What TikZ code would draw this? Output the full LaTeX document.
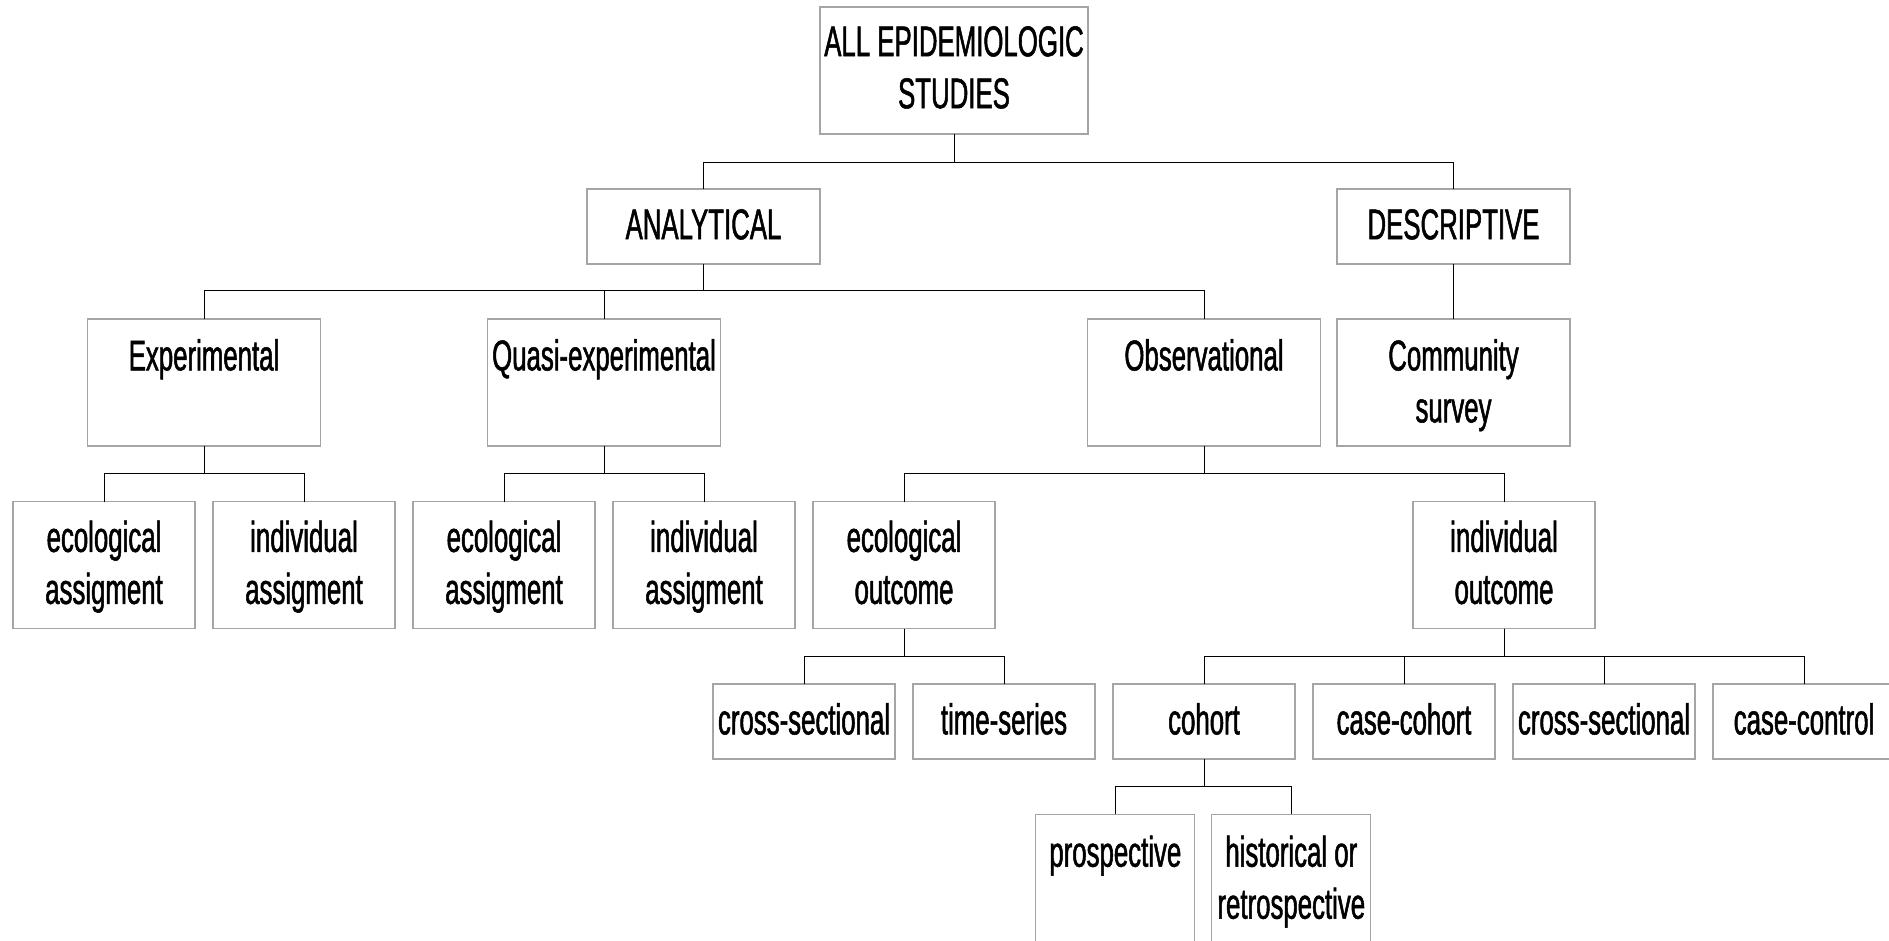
\documentclass[tikz,border=0pt]{standalone}
\usepackage{fontspec}
\newfontfamily\condfont{Liberation Sans}[FakeStretch=0.6,FakeBold=1.2]
\definecolor{boxgray}{RGB}{165,165,165}
\begin{document}
\begin{tikzpicture}[x=1pt,y=-1pt,
  box/.style={draw=boxgray, line width=1.3pt, inner sep=0pt, outer sep=0pt},
  txt/.style={anchor=north, inner sep=0pt, align=center,
    font=\condfont\fontsize{43}{52}\selectfont},
  conn/.style={draw=black, line width=1pt}]
\fill[white] (0,0) rectangle (1889,940);
\useasboundingbox (0,0) rectangle (1889,940);
\clip (0,0) rectangle (1889,940);
% level 0
\node[box, minimum width=268pt, minimum height=127pt] (top) at (954,70.5) {};
% level 1
\node[box, minimum width=233pt, minimum height=75pt] (ana) at (703.5,226.5) {};
\node[box, minimum width=233pt, minimum height=75pt] (desc) at (1453.5,226.5) {};
% level 2
\node[box, minimum width=233pt, minimum height=127pt] (exp) at (204,382.5) {};
\node[box, minimum width=233pt, minimum height=127pt] (quasi) at (604,382.5) {};
\node[box, minimum width=233pt, minimum height=127pt] (obs) at (1204,382.5) {};
\node[box, minimum width=233pt, minimum height=127pt] (comm) at (1453.5,382.5) {};
% level 3
\node[box, minimum width=182pt, minimum height=127pt] (ea1) at (104,565) {};
\node[box, minimum width=182pt, minimum height=127pt] (ia1) at (304,565) {};
\node[box, minimum width=182pt, minimum height=127pt] (ea2) at (504,565) {};
\node[box, minimum width=182pt, minimum height=127pt] (ia2) at (704,565) {};
\node[box, minimum width=182pt, minimum height=127pt] (eo) at (904,565) {};
\node[box, minimum width=182pt, minimum height=127pt] (io) at (1504,565) {};
% level 4
\node[box, minimum width=182pt, minimum height=75pt] (cs1) at (804,721.5) {};
\node[box, minimum width=182pt, minimum height=75pt] (ts) at (1004,721.5) {};
\node[box, minimum width=182pt, minimum height=75pt] (coh) at (1204,721.5) {};
\node[box, minimum width=182pt, minimum height=75pt] (cc) at (1404,721.5) {};
\node[box, minimum width=182pt, minimum height=75pt] (cs2) at (1604,721.5) {};
\node[box, minimum width=182pt, minimum height=75pt] (ctl) at (1804,721.5) {};
% level 5
\node[box, minimum width=159pt, minimum height=200pt] (pro) at (1115.3,914.3) {};
\node[box, minimum width=159pt, minimum height=200pt] (his) at (1291.3,914.3) {};

% texts
\node[txt] (ttop) at ([yshift=-19pt]top.north) {ALL EPIDEMIOLOGIC\\STUDIES};
\node[txt] (tana) at ([yshift=-20pt]ana.north) {ANALYTICAL};
\node[txt] (tdesc) at ([yshift=-20pt]desc.north) {DESCRIPTIVE};
\node[txt] (texp) at ([yshift=-20pt]exp.north) {Experimental};
\node[txt] (tquasi) at ([yshift=-20pt]quasi.north) {Quasi-experimental};
\node[txt] (tobs) at ([yshift=-20pt]obs.north) {Observational};
\node[txt] (tcomm) at ([yshift=-20pt]comm.north) {Community\\survey};
\node[txt] (tea1) at ([yshift=-19pt]ea1.north) {ecological\\assigment};
\node[txt] (tia1) at ([yshift=-19pt]ia1.north) {individual\\assigment};
\node[txt] (tea2) at ([yshift=-19pt]ea2.north) {ecological\\assigment};
\node[txt] (tia2) at ([yshift=-19pt]ia2.north) {individual\\assigment};
\node[txt] (teo) at ([yshift=-19pt]eo.north) {ecological\\outcome};
\node[txt] (tio) at ([yshift=-19pt]io.north) {individual\\outcome};
\node[txt] (tcs1) at ([yshift=-19pt]cs1.north) {cross-sectional};
\node[txt] (tts) at ([yshift=-19pt]ts.north) {time-series};
\node[txt] (tcoh) at ([yshift=-19pt]coh.north) {cohort};
\node[txt] (tcc) at ([yshift=-19pt]cc.north) {case-cohort};
\node[txt] (tcs2) at ([yshift=-19pt]cs2.north) {cross-sectional};
\node[txt] (tctl) at ([yshift=-19pt]ctl.north) {case-control};
\node[txt] (tpro) at ([yshift=-21pt]pro.north) {prospective};
\node[txt] (this) at ([yshift=-21pt]his.north) {historical or\\retrospective};

% connectors
\draw[conn] (top.south) -- ++(0,28) -| (ana.north);
\draw[conn] (top.south) -- ++(0,28) -| (desc.north);
\draw[conn] (ana.south) -- ++(0,26.5) -| (exp.north);
\draw[conn] (ana.south) -- ++(0,26.5) -| (quasi.north);
\draw[conn] (ana.south) -- ++(0,26.5) -| (obs.north);
\draw[conn] (desc.south) -- (comm.north);
\draw[conn] (exp.south) -- ++(0,27.5) -| (ea1.north);
\draw[conn] (exp.south) -- ++(0,27.5) -| (ia1.north);
\draw[conn] (quasi.south) -- ++(0,27.5) -| (ea2.north);
\draw[conn] (quasi.south) -- ++(0,27.5) -| (ia2.north);
\draw[conn] (obs.south) -- ++(0,27.5) -| (eo.north);
\draw[conn] (obs.south) -- ++(0,27.5) -| (io.north);
\draw[conn] (eo.south) -- ++(0,28) -| (cs1.north);
\draw[conn] (eo.south) -- ++(0,28) -| (ts.north);
\draw[conn] (io.south) -- ++(0,28) -| (coh.north);
\draw[conn] (io.south) -- ++(0,28) -| (cc.north);
\draw[conn] (io.south) -- ++(0,28) -| (cs2.north);
\draw[conn] (io.south) -- ++(0,28) -| (ctl.north);
\draw[conn] (coh.south) -- ++(0,27.5) -| (pro.north);
\draw[conn] (coh.south) -- ++(0,27.5) -| (his.north);
\end{tikzpicture}
\end{document}
